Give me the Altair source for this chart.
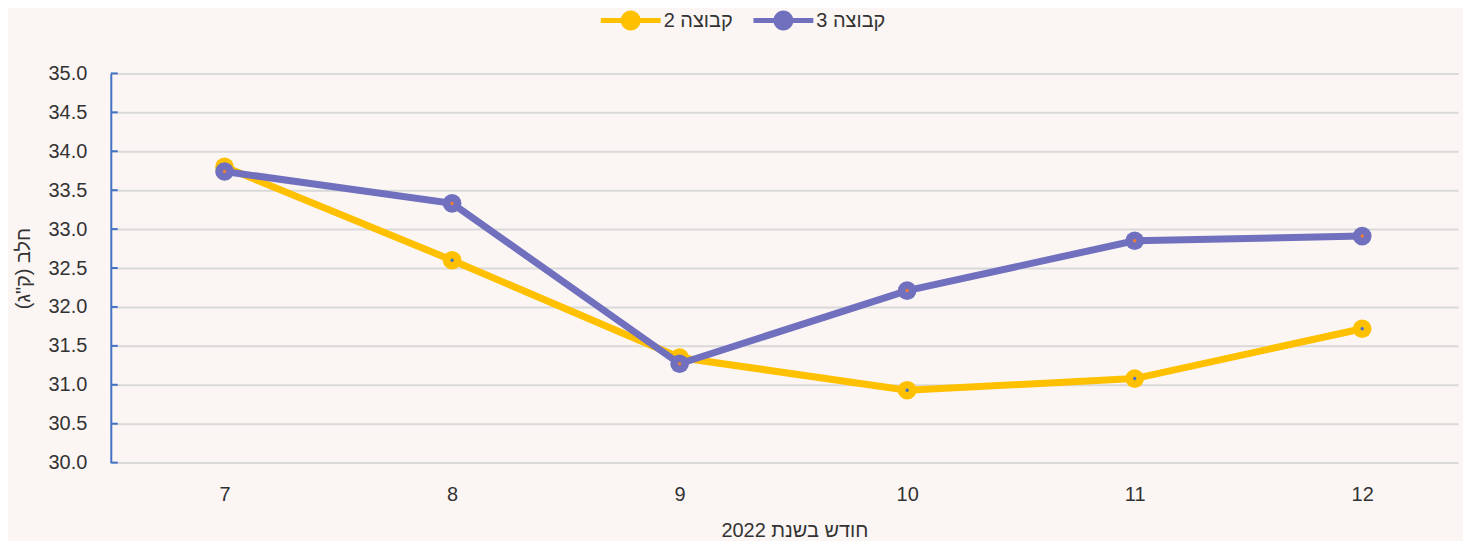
import altair as alt
import pandas as pd

months = [7, 8, 9, 10, 11, 12]
groups = ["קבוצה 2", "קבוצה 3"]
group2 = [33.80, 32.60, 31.35, 30.93, 31.08, 31.72]
group3 = [33.74, 33.33, 31.27, 32.21, 32.85, 32.91]
line_colors = ["#FFC000", "#7070BE"]
dot_colors = ["#4472C4", "#ED7D31"]
y_ticks = [30.0, 30.5, 31.0, 31.5, 32.0, 32.5, 33.0, 33.5, 34.0, 34.5, 35.0]

# separate keys for the centre dots so their scale stays independent of the legend one
dot_keys = [g + "\u200b" for g in groups]

rows = []
for g, dk, vals in zip(groups, dot_keys, [group2, group3]):
    for m, v in zip(months, vals):
        rows.append({"month": m, "value": v, "group": g, "dot": dk})
df = pd.DataFrame(rows)
tick_df = pd.DataFrame({"value": y_ticks})

W = 1350
H = 390
STEP = 228
x_dom = [6.5, 6.5 + W / STEP]
FONT = "Liberation Sans"
TXT = "#333333"

x_enc = alt.X(
    "month:Q",
    scale=alt.Scale(domain=x_dom, nice=False, zero=False),
    axis=alt.Axis(
        values=months, format="d", grid=False, domain=False, ticks=False,
        labelPadding=22, labelFontSize=20, labelColor=TXT, labelFont=FONT,
        title="חודש בשנת 2022", titleFontSize=20, titleFontWeight="normal",
        titleColor=TXT, titleFont=FONT, titlePadding=16, titleX=685,
        titleAlign="center",
    ),
)
y_axis = alt.Axis(
    values=y_ticks, format=".1f", grid=True, gridColor="#D9D9D9",
    gridWidth=2, domain=True, domainColor="#4472C4", domainWidth=2,
    ticks=False, labelPadding=24, labelFontSize=20, labelColor=TXT,
    labelFont=FONT, title='חלב (ק"ג)', titleFontSize=20,
    titleFontWeight="normal", titleColor=TXT, titleFont=FONT,
    titlePadding=15,
)
y_scale = alt.Scale(domain=[30, 35], nice=False, zero=False)
y_enc = alt.Y("value:Q", scale=y_scale, axis=y_axis)

BIG_PATH = "M-3,-0.25L3,-0.25L3,0.25L-3,0.25Z M1,0A1,1 0 1,1 -1,0A1,1 0 1,1 1,0Z"

big_legend = alt.Legend(
    orient="none", direction="horizontal", legendX=511, legendY=-63,
    title=None, symbolType=BIG_PATH, symbolSize=400, symbolStrokeWidth=0,
    labelOffset=23, columnPadding=20, labelFontSize=20, labelFont=FONT,
    labelColor=TXT, padding=0,
)

color_enc = alt.Color("group:N", scale=alt.Scale(domain=groups, range=line_colors), legend=big_legend)
fill_enc = alt.Fill("dot:N", scale=alt.Scale(domain=dot_keys, range=dot_colors), legend=None)

base = alt.Chart(df)
layers = []
for g, lc in zip(groups, line_colors):
    b = base.transform_filter(alt.datum.group == g)
    layers.append(b.mark_line(strokeWidth=7, color=lc).encode(x=x_enc, y=y_enc))
    layers.append(b.mark_circle(size=350, opacity=1).encode(x=x_enc, y=y_enc, color=color_enc))
    layers.append(b.mark_circle(size=12, opacity=1).encode(x=x_enc, y=y_enc, fill=fill_enc))

ticks = alt.Chart(tick_df).mark_rule(color="#4472C4", strokeWidth=2).encode(
    y=y_enc,
    x=alt.value(0), x2=alt.value(7),
)

chart = alt.layer(ticks, *layers).properties(
    width=W, height=H, background="#FBF6F3",
    padding={"left": 5, "right": 5, "top": 2, "bottom": 0},
).configure_view(stroke=None)

chart.save("out.html", embed_options={"renderer": "svg", "actions": False})
